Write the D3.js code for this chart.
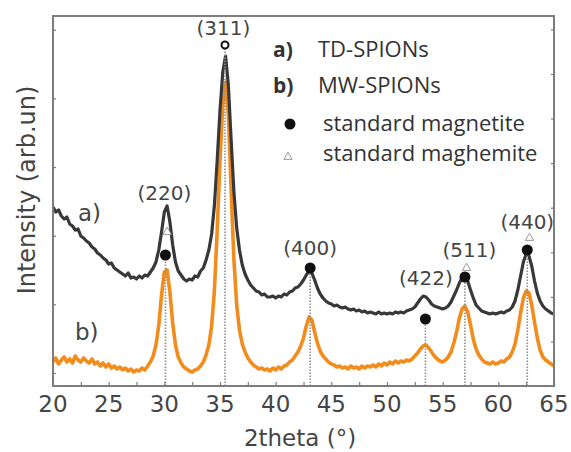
<!DOCTYPE html>
<html>
<head>
<meta charset="utf-8">
<script src="https://cdn.jsdelivr.net/npm/d3@7"></script>
<style>
  html, body { margin: 0; padding: 0; background: #fff; }
  svg { display: block; }
</style>
</head>
<body>
<div id="xrd_chart"></div>
<script>
// 2theta grid of the scans, one reading every 0.25 degree from 20 to 65
const twoTheta = d3.range(20, 65.001, 0.25);

// a) TD-SPIONs (dark trace)
const tdSpions = [
  193, 188, 190, 184, 181, 183, 176, 174, 170, 171, 164, 162, 159, 157, 153, 151,
  147, 145, 142, 140, 136, 137, 132, 130, 128, 126, 124, 127, 122, 123, 121, 124,
  122, 125, 124, 128, 132, 138, 150, 168, 188, 194, 178, 155, 138, 129, 125, 121,
  119, 121, 120, 124, 123, 129, 132, 140, 150, 166, 195, 240, 290, 328, 344, 315,
  260, 208, 172, 150, 135, 126, 120, 115, 112, 109, 108, 105, 106, 103, 103, 104,
  102, 104, 103, 106, 105, 108, 109, 112, 113, 116, 120, 125, 129, 127, 120, 112,
  106, 102, 99, 97, 96, 94, 95, 93, 92, 93, 91, 90, 91, 89, 90, 88,
  89, 87, 88, 87, 86, 88, 86, 87, 86, 87, 86, 88, 87, 88, 87, 89,
  90, 91, 93, 97, 101, 104, 103, 100, 96, 94, 93, 92, 91, 92, 94, 98,
  104, 110, 117, 122, 123, 119, 110, 102, 95, 92, 89, 88, 87, 86, 87, 86,
  87, 88, 87, 89, 90, 93, 99, 110, 124, 138, 146, 144, 134, 119, 107, 99,
  94, 91, 89, 87, 86
];

// b) MW-SPIONs (orange trace)
const mwSpions = [
  38, 42, 36, 40, 43, 38, 41, 37, 44, 40, 38, 42, 39, 37, 41, 36,
  38, 34, 37, 33, 36, 32, 34, 31, 33, 30, 32, 29, 31, 28, 30, 29,
  32, 30, 34, 38, 44, 55, 75, 105, 128, 130, 108, 77, 55, 43, 37, 33,
  31, 29, 28, 30, 31, 34, 38, 45, 55, 74, 110, 170, 240, 295, 318, 285,
  210, 140, 95, 70, 56, 48, 42, 38, 35, 33, 31, 32, 30, 31, 29, 32,
  30, 33, 31, 34, 35, 38, 40, 44, 48, 54, 62, 74, 83, 80, 68, 57,
  49, 44, 41, 38, 36, 35, 33, 34, 32, 33, 31, 34, 32, 33, 31, 34,
  32, 34, 33, 35, 33, 36, 34, 37, 35, 38, 36, 39, 37, 39, 38, 40,
  39, 41, 44, 47, 51, 54, 55, 52, 48, 44, 41, 39, 38, 40, 43, 48,
  57, 68, 82, 91, 94, 88, 75, 61, 51, 45, 41, 38, 37, 36, 38, 36,
  37, 39, 38, 41, 43, 48, 56, 70, 87, 102, 109, 107, 95, 78, 62, 50,
  43, 40, 38, 36, 34
];

// standard magnetite reflections: position and marker height
const magnetitePos = [30.1, 35.45, 43.1, 53.45, 57.0, 62.6];
const magnetiteHeight = [145, 355, 132, 81, 123, 150];
// standard maghemite reflections seen above the markers
const maghemitePos = [30.25, 57.15, 62.8];
const maghemiteHeight = [168, 132, 162];

// peak labels
const peakLabels = ["(220)", "(311)", "(400)", "(422)", "(511)", "(440)"];
const peakLabelPos = [30.0, 35.3, 43.1, 53.5, 57.4, 62.6];
const peakLabelHeight = [200, 365, 145, 115, 143, 171];

const xTicks = [20, 25, 30, 35, 40, 45, 50, 55, 60, 65];

const width = 571, height = 452;
const plotLeft = 53, plotRight = 554, plotTop = 16, plotBottom = 386;

const svg = d3.select("#xrd_chart")
  .append("svg")
    .attr("width", width)
    .attr("height", height);

const x = d3.scaleLinear().domain([20, 65]).range([plotLeft, plotRight]);
const y = d3.scaleLinear().domain([14, 384]).range([plotBottom, plotTop]);
// unlabelled side scales, only used for the small inner ticks
const yLeft = d3.scaleLinear().domain([-0.19, 5.2]).range([plotBottom, plotTop]);
const yRight = d3.scaleLinear().domain([0, 8.3]).range([plotBottom, plotTop]);

const axisColor = "#7d7d7d";
const textColor = "#454545";

// traces
const line = d3.line()
  .x((d, i) => x(twoTheta[i]))
  .y(d => y(d));

svg.append("path")
  .datum(mwSpions)
  .attr("fill", "none")
  .attr("stroke", "#f28c1c")
  .attr("stroke-width", 3.6)
  .attr("stroke-linejoin", "round")
  .attr("d", line);

svg.append("path")
  .datum(tdSpions)
  .attr("fill", "none")
  .attr("stroke", "#383838")
  .attr("stroke-width", 3.2)
  .attr("stroke-linejoin", "round")
  .attr("d", line);

// dotted reference lines for the standards
svg.selectAll(".refLine")
  .data(magnetitePos)
  .enter()
  .append("line")
    .attr("class", "refLine")
    .attr("x1", d => x(d))
    .attr("x2", d => x(d))
    .attr("y1", y(14))
    .attr("y2", (d, i) => y(magnetiteHeight[i]))
    .attr("stroke", "#8f8f8f")
    .attr("stroke-width", 1.6)
    .attr("stroke-dasharray", "1.5,1.5");

// maghemite triangles
const tri = d3.symbol().type(d3.symbolTriangle).size(30);
svg.selectAll(".maghemite")
  .data(maghemitePos)
  .enter()
  .append("path")
    .attr("class", "maghemite")
    .attr("d", tri)
    .attr("transform", (d, i) => `translate(${x(d)},${y(maghemiteHeight[i])})`)
    .attr("fill", "#fff")
    .attr("stroke", "#9a9a9a")
    .attr("stroke-width", 1);

// magnetite circles, the (311) one is drawn open
svg.selectAll(".magnetite")
  .data(magnetitePos)
  .enter()
  .append("circle")
    .attr("class", "magnetite")
    .attr("cx", d => x(d))
    .attr("cy", (d, i) => y(magnetiteHeight[i]))
    .attr("r", (d, i) => i === 1 ? 3.5 : 5.5)
    .attr("fill", (d, i) => i === 1 ? "#fff" : "#111")
    .attr("stroke", "#111")
    .attr("stroke-width", (d, i) => i === 1 ? 2 : 0);

// peak labels
svg.selectAll(".peakLabel")
  .data(peakLabels)
  .enter()
  .append("text")
    .attr("class", "peakLabel")
    .attr("x", (d, i) => x(peakLabelPos[i]))
    .attr("y", (d, i) => y(peakLabelHeight[i]))
    .attr("text-anchor", "middle")
    .style("font-family", "DejaVu Sans")
    .style("font-size", "20px")
    .style("fill", textColor)
    .text(d => d);

// trace names next to the curves
svg.append("text")
  .attr("x", 78).attr("y", 221)
  .style("font-family", "DejaVu Sans").style("font-size", "23px")
  .style("fill", textColor)
  .text("a)");
svg.append("text")
  .attr("x", 75).attr("y", 340)
  .style("font-family", "DejaVu Sans").style("font-size", "23px")
  .style("fill", textColor)
  .text("b)");

// frame
svg.append("rect")
  .attr("x", plotLeft).attr("y", plotTop)
  .attr("width", plotRight - plotLeft).attr("height", plotBottom - plotTop)
  .attr("fill", "none")
  .attr("stroke", axisColor)
  .attr("stroke-width", 2);

// bottom axis, ticks point inward
const xAxis = svg.append("g")
  .attr("transform", `translate(0,${plotBottom})`)
  .call(d3.axisBottom(x).tickValues(d3.range(20, 65.01, 2.5)).tickSize(-4).tickFormat(""));
xAxis.select(".domain").remove();
xAxis.selectAll("line").attr("stroke", axisColor).attr("stroke-width", 1.2);

svg.selectAll(".xLabel")
  .data(xTicks)
  .enter()
  .append("text")
    .attr("class", "xLabel")
    .attr("x", d => x(d))
    .attr("y", 412)
    .attr("text-anchor", "middle")
    .style("font-family", "DejaVu Sans")
    .style("font-size", "23px")
    .style("fill", textColor)
    .text(d => d);

const leftAxis = svg.append("g")
  .attr("transform", `translate(${plotLeft},0)`)
  .call(d3.axisLeft(yLeft).tickValues([0, 1, 2, 3, 4, 5]).tickSize(-3).tickFormat(""));
leftAxis.select(".domain").remove();
leftAxis.selectAll("line").attr("stroke", axisColor).attr("stroke-width", 1.2);

const rightAxis = svg.append("g")
  .attr("transform", `translate(${plotRight},0)`)
  .call(d3.axisRight(yRight).tickValues([1, 2, 3, 4, 5, 6, 7, 8]).tickSize(-3).tickFormat(""));
rightAxis.select(".domain").remove();
rightAxis.selectAll("line").attr("stroke", axisColor).attr("stroke-width", 1.2);

// axis titles
svg.append("text")
  .attr("x", 300).attr("y", 446)
  .attr("text-anchor", "middle")
  .style("font-family", "DejaVu Sans").style("font-size", "23px")
  .style("fill", textColor)
  .text("2theta (°)");

svg.append("text")
  .attr("transform", "translate(35,190) rotate(-90)")
  .attr("text-anchor", "middle")
  .style("font-family", "DejaVu Sans").style("font-size", "24px")
  .style("fill", textColor)
  .text("Intensity (arb.un)");

// legend
const legend = svg.append("g").style("font-family", "Open Sans").style("fill", "#333");
legend.append("text").attr("x", 273).attr("y", 57)
  .style("font-size", "21px").style("font-weight", "bold").text("a)");
legend.append("text").attr("x", 318).attr("y", 57)
  .style("font-size", "22px").text("TD-SPIONs");
legend.append("text").attr("x", 273).attr("y", 93)
  .style("font-size", "21px").style("font-weight", "bold").text("b)");
legend.append("text").attr("x", 318).attr("y", 93)
  .style("font-size", "22px").text("MW-SPIONs");
legend.append("circle").attr("cx", 290).attr("cy", 124).attr("r", 5.5).attr("fill", "#111");
legend.append("text").attr("x", 323).attr("y", 131)
  .style("font-size", "22px").text("standard magnetite");
legend.append("path").attr("d", tri)
  .attr("transform", "translate(288,157)")
  .attr("fill", "#fff").attr("stroke", "#9a9a9a").attr("stroke-width", 1);
legend.append("text").attr("x", 323).attr("y", 161)
  .style("font-size", "22px").text("standard maghemite");
</script>
</body>
</html>
